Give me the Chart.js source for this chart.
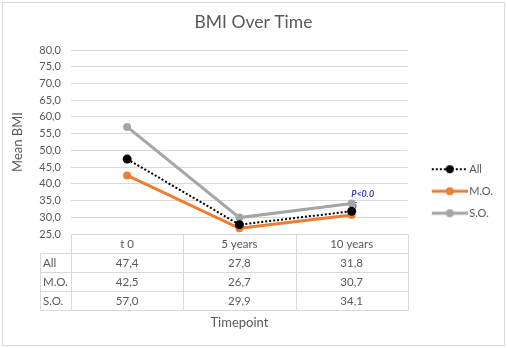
<!DOCTYPE html>
<html>
<head>
<meta charset="utf-8">
<script src="https://cdn.jsdelivr.net/npm/chart.js@4.4.1/dist/chart.umd.min.js"></script>
<style>
  html, body { margin: 0; padding: 0; background: #fff; }
</style>
</head>
<body>
<canvas id="bmiChart" width="507" height="348"></canvas>
<script>
// data
const timepoints = ["t 0", "5 years", "10 years"];
const seriesNames = ["All", "M.O.", "S.O."];
const allValues = [47.4, 27.8, 31.8];
const moValues = [42.5, 26.7, 30.7];
const soValues = [57.0, 29.9, 34.1];
const pNote = ["P<0.0", "5"];

const FONT = "Lato, 'Open Sans', sans-serif";
const TEXT = "#595959";
const GRID = "#d9d9d9";

const fmt = (v) => v.toFixed(1).replace(".", ",");

// legend samples: line with a dot in the middle
function makeSample(color, width, dash, radius) {
  const c = document.createElement("canvas");
  c.width = 53;
  c.height = 12;
  const g = c.getContext("2d");
  g.strokeStyle = color;
  g.lineWidth = width;
  g.setLineDash(dash);
  g.beginPath();
  g.moveTo(17, 6);
  g.lineTo(53, 6);
  g.stroke();
  g.setLineDash([]);
  g.fillStyle = color;
  g.beginPath();
  g.arc(35, 6, radius, 0, Math.PI * 2);
  g.fill();
  return c;
}

const samples = [
  makeSample("#000000", 2, [2, 2], 4),
  makeSample("#ED7D31", 3, [], 4),
  makeSample("#A5A5A5", 3, [], 4),
];

const framePlugin = {
  id: "frame",
  beforeDraw(chart) {
    const { ctx, width, height } = chart;
    ctx.save();
    ctx.fillStyle = "#ffffff";
    ctx.fillRect(0, 0, width, height);
    ctx.strokeStyle = GRID;
    ctx.lineWidth = 1;
    ctx.strokeRect(2.5, 2.5, width - 5, height - 5);
    ctx.restore();
  },
};

// data table under the plot, same column positions as the x scale
const tablePlugin = {
  id: "dataTable",
  afterDraw(chart) {
    const { ctx, chartArea } = chart;
    const x = chart.scales.x;
    const rows = [allValues, moValues, soValues];
    const rowH = 19;
    const top = Math.round(chartArea.bottom) + 0.5;
    const half = (x.getPixelForValue(1) - x.getPixelForValue(0)) / 2;
    const edges = [Math.round(chartArea.left) + 0.5];
    timepoints.forEach((t, i) => edges.push(Math.round(x.getPixelForValue(i) + half) + 0.5));
    const labelLeft = 40.5;
    const right = edges[edges.length - 1];
    const bottom = top + rowH * (rows.length + 1);

    ctx.save();
    ctx.strokeStyle = GRID;
    ctx.lineWidth = 1;
    ctx.beginPath();
    ctx.moveTo(edges[0], top);
    ctx.lineTo(right, top);
    for (let r = 1; r <= rows.length + 1; r++) {
      ctx.moveTo(labelLeft, top + r * rowH);
      ctx.lineTo(right, top + r * rowH);
    }
    edges.forEach((e) => {
      ctx.moveTo(e, top);
      ctx.lineTo(e, bottom);
    });
    ctx.moveTo(labelLeft, top + rowH);
    ctx.lineTo(labelLeft, bottom);
    ctx.stroke();

    ctx.fillStyle = TEXT;
    ctx.font = "11.5px " + FONT;
    ctx.textBaseline = "middle";
    ctx.textAlign = "center";
    timepoints.forEach((t, i) => {
      ctx.fillText(t, x.getPixelForValue(i), top + rowH / 2);
    });
    rows.forEach((vals, r) => {
      const cy = top + rowH * (r + 1.5);
      ctx.textAlign = "left";
      ctx.fillText(seriesNames[r], labelLeft + 2.5, cy);
      ctx.textAlign = "center";
      vals.forEach((v, i) => ctx.fillText(fmt(v), x.getPixelForValue(i), cy));
    });
    ctx.restore();
  },
};

// "P<0.05" note next to the last S.O. point
const notePlugin = {
  id: "pNote",
  beforeDatasetsDraw(chart) {
    const pt = chart.getDatasetMeta(2).data[soValues.length - 1];
    const { ctx } = chart;
    ctx.save();
    ctx.fillStyle = "#4040c8";
    ctx.font = "italic bold 9px " + FONT;
    ctx.textAlign = "center";
    ctx.textBaseline = "middle";
    ctx.fillText(pNote[1], pt.x + 3, pt.y + 3);
    ctx.restore();
  },
  afterDatasetsDraw(chart) {
    const pt = chart.getDatasetMeta(2).data[soValues.length - 1];
    const { ctx } = chart;
    ctx.save();
    ctx.fillStyle = "#4040c8";
    ctx.font = "italic bold 9px " + FONT;
    ctx.textAlign = "center";
    ctx.textBaseline = "middle";
    ctx.fillText(pNote[0], pt.x + 11, pt.y - 9);
    ctx.restore();
  },
};

new Chart(document.getElementById("bmiChart").getContext("2d"), {
  type: "line",
  data: {
    labels: timepoints,
    datasets: [
      {
        label: seriesNames[0],
        data: allValues,
        borderColor: "#000000",
        backgroundColor: "#000000",
        borderWidth: 2,
        borderDash: [2, 2],
        pointRadius: 4.5,
        pointBorderWidth: 0,
      },
      {
        label: seriesNames[1],
        data: moValues,
        borderColor: "#ED7D31",
        backgroundColor: "#ED7D31",
        borderWidth: 3,
        pointRadius: 4,
        pointBorderWidth: 0,
      },
      {
        label: seriesNames[2],
        data: soValues,
        borderColor: "#A5A5A5",
        backgroundColor: "#A5A5A5",
        borderWidth: 3,
        pointRadius: 4,
        pointBorderWidth: 0,
      },
    ],
  },
  options: {
    responsive: false,
    animation: false,
    devicePixelRatio: 1,
    layout: { padding: { left: 4, right: 4, top: 8, bottom: 0 } },
    plugins: {
      title: {
        display: true,
        text: "BMI Over Time",
        color: TEXT,
        font: { family: FONT, size: 17.5, weight: "normal" },
        padding: { top: 4, bottom: 17 },
      },
      legend: {
        position: "right",
        title: {
          // empty title only pushes the entries down a bit
          display: true,
          text: "",
          font: { size: 2 },
          padding: { top: 0, bottom: 24 },
        },
        labels: {
          usePointStyle: true,
          pointStyleWidth: 45,
          color: TEXT,
          font: { family: FONT, size: 11 },
          padding: 11,
          generateLabels(chart) {
            const items = Chart.defaults.plugins.legend.labels.generateLabels(chart);
            items.forEach((item, i) => {
              item.pointStyle = samples[i];
              item.rotation = 0;
            });
            return items;
          },
        },
      },
      tooltip: { enabled: false },
    },
    scales: {
      x: {
        offset: true,
        grid: { display: false },
        border: { display: false },
        ticks: { display: false },
        title: {
          display: true,
          text: "Timepoint",
          color: TEXT,
          font: { family: FONT, size: 13 },
          padding: { top: 0, bottom: 17 },
        },
        afterFit(scale) {
          scale.height = 114;
        },
      },
      y: {
        min: 25,
        max: 80,
        ticks: {
          stepSize: 5,
          autoSkip: false,
          color: TEXT,
          font: { family: FONT, size: 11 },
          padding: 10,
          callback: (v) => fmt(v),
        },
        grid: { color: GRID, drawTicks: false },
        border: { display: false },
        title: {
          display: true,
          text: "Mean BMI",
          color: TEXT,
          font: { family: FONT, size: 13 },
          padding: { top: 6, bottom: 0 },
        },
        afterFit(scale) {
          scale.width = 67;
        },
      },
    },
  },
  plugins: [framePlugin, tablePlugin, notePlugin],
});
</script>
</body>
</html>
